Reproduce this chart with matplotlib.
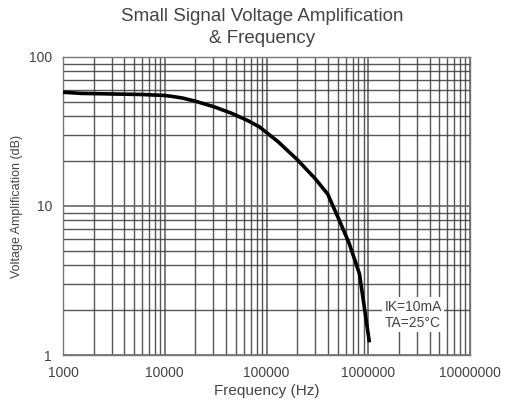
import numpy as np
import matplotlib
matplotlib.use("Agg")
import matplotlib.pyplot as plt
from matplotlib.ticker import LogLocator, FixedLocator, NullFormatter

plt.rcParams['font.family'] = ['Liberation Sans', 'DejaVu Sans']

# curve
freq_hz = [1000, 1500, 3000, 6000, 10000, 12000, 15000, 20000, 30000, 45000,
           65000, 85000, 130000, 200000, 300000, 400000, 520000, 650000,
           820000, 1020000]
gain_db = [58, 57, 56.5, 56, 55.2, 54.3, 53, 50.5, 46.5, 42,
           37.5, 34, 27, 20.5, 15.3, 12, 8, 5.6,
           3.5, 1.25]

x_ticks = [1000, 10000, 100000, 1000000, 10000000]
x_labels = ['1000', '10000', '100000', '1000000', '10000000']
y_ticks = [1, 10, 100]
y_labels = ['1', '10', '100']

txt = '#444444'

fig = plt.figure(figsize=(5.09, 4.08), dpi=100)
ax = fig.add_axes([0.1238, 0.1299, 0.7996, 0.7304])

ax.set_xscale('log')
ax.set_yscale('log')
ax.set_xlim(1000, 10000000)
ax.set_ylim(1, 100)

ax.xaxis.set_major_locator(FixedLocator(x_ticks))
ax.yaxis.set_major_locator(FixedLocator(y_ticks))
ax.set_xticklabels(x_labels)
ax.set_yticklabels(y_labels)
ax.xaxis.set_minor_locator(LogLocator(base=10, subs=np.arange(2, 10)))
ax.yaxis.set_minor_locator(LogLocator(base=10, subs=np.arange(2, 10)))
ax.xaxis.set_minor_formatter(NullFormatter())
ax.yaxis.set_minor_formatter(NullFormatter())

ax.grid(True, which='major', color='#666666', linewidth=1.2)
ax.grid(True, which='minor', color='#3a3a3a', linewidth=1.0, alpha=0.85)
ax.tick_params(which='both', length=0, labelsize=10, colors=txt, pad=8)
for s in ax.spines.values():
    s.set_color('#777777')
    s.set_linewidth(1.0)

ax.plot(freq_hz, gain_db, color='black', linewidth=2.6, zorder=3)

ax.text(0.86, 0.135, 'IK=10mA\nTA=25°C', transform=ax.transAxes,
        ha='center', va='center', fontsize=10, color=txt, linespacing=1.15,
        bbox=dict(facecolor='white', edgecolor='none', pad=2), zorder=4)

ax.set_xlabel('Frequency (Hz)', fontsize=11, color=txt, labelpad=3)
ax.set_ylabel('Voltage Amplification (dB)', fontsize=9, color=txt, labelpad=4)
fig.suptitle('Small Signal Voltage Amplification\n& Frequency', fontsize=13.5,
             color=txt, x=0.515, y=0.98, linespacing=1.4)

fig.savefig('out.png', dpi=100)
